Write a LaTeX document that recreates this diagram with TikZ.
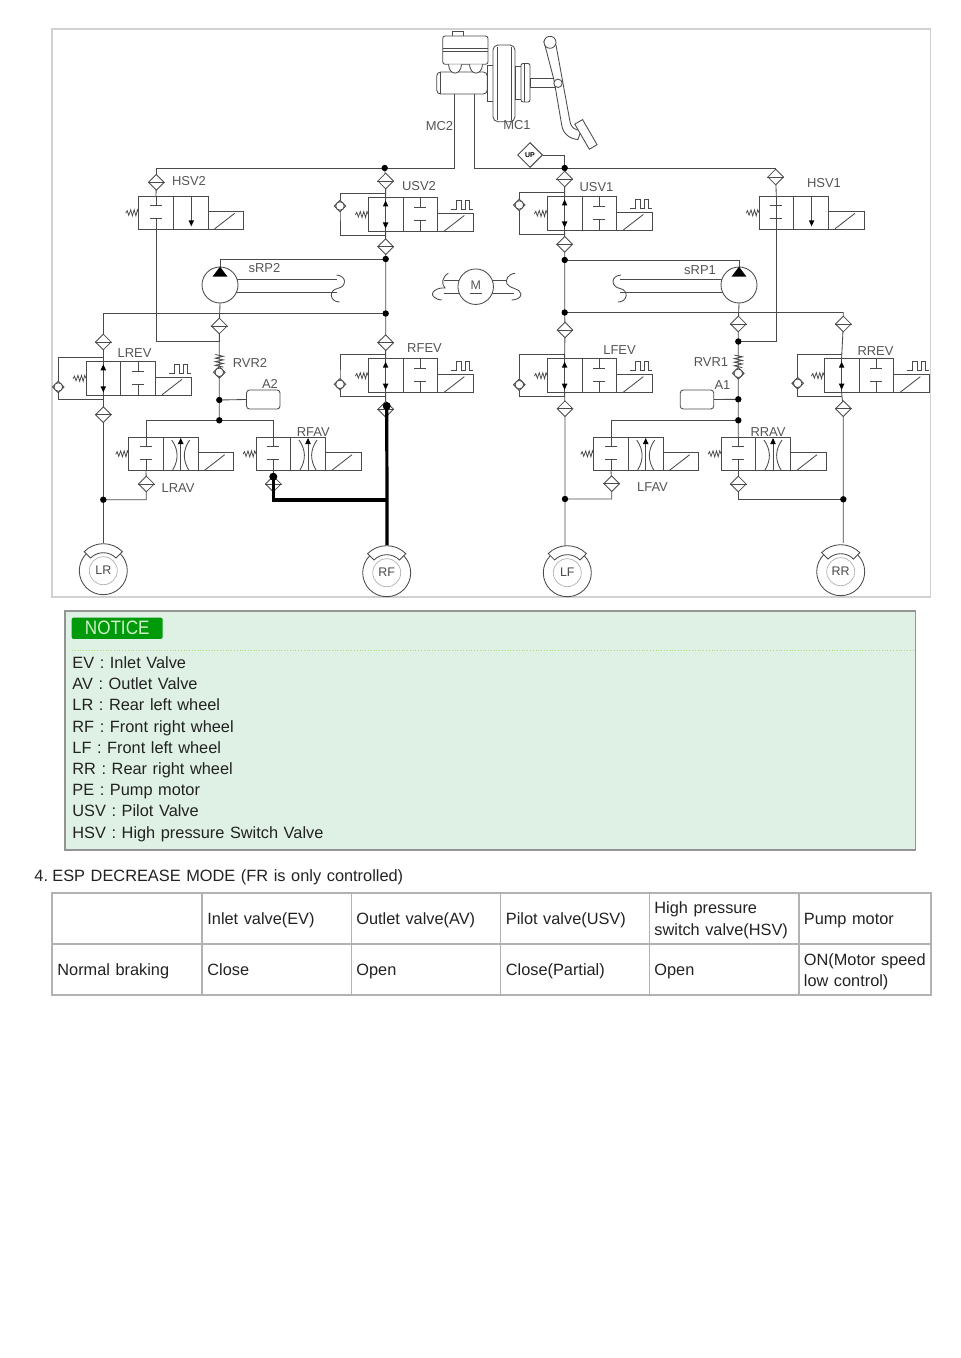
\documentclass[tikz,border=0pt]{standalone}
\usepackage{fontspec}
\setmainfont{Liberation Sans}
\newfontfamily\bodyfam[WordSpace=1.08]{Liberation Sans}
\newfontfamily\notefam[WordSpace=1.3]{Liberation Sans}
\newfontfamily\headfam[WordSpace=1.23]{Liberation Sans}
\newfontfamily\noticefam[FakeStretch=0.88]{Liberation Sans}
\usetikzlibrary{shapes.geometric,backgrounds,calc}
\definecolor{ln}{HTML}{4A4A4A}
\definecolor{lab}{HTML}{555555}
\definecolor{txt}{HTML}{222222}
\definecolor{noticebg}{HTML}{DFF1E4}
\definecolor{noticegr}{HTML}{009A0A}
\definecolor{noticetx}{HTML}{CFF2C8}
\newcommand\labfont{\fontsize{13}{13}\selectfont}
\newcommand\bodyfont{\bodyfam\fontsize{16.38}{21}\selectfont}
\newcommand\notefont{\notefam\fontsize{16.4}{21}\selectfont}
\newcommand\headfont{\headfam\fontsize{16.42}{21}\selectfont}
\tikzset{
  x=1bp,y=-1bp,
  every path/.style={line width=0.85bp},
  pipe/.style={draw=ln,line width=0.85bp},
  part/.style={draw=ln,line width=0.85bp},
  valvebox/.style={draw=ln,fill=white,rectangle,inner sep=0,outer sep=0,line width=0.85bp},
  filter/.style={draw=ln,fill=white,diamond,aspect=1,minimum width=16bp,minimum height=16bp,inner sep=0,line width=0.85bp},
  chk/.style={draw=ln,fill=white,diamond,aspect=1,minimum width=12bp,minimum height=12bp,inner sep=0,line width=0.85bp},
  junction/.style={circle,fill=black,minimum size=6.4bp,inner sep=0},
  bigdot/.style={circle,fill=black,minimum size=8bp,inner sep=0},
  lbl/.style={text=lab,font=\labfont,inner sep=0},
  accu/.style={draw=ln,fill=white,rectangle,rounded corners=3bp,minimum width=33.5bp,minimum height=19bp,inner sep=0,line width=0.85bp},
  pumpc/.style={draw=ln,fill=white,circle,minimum size=36bp,inner sep=0,line width=0.85bp},
  wheelc/.style={draw=ln,fill=white,circle,minimum size=48bp,inner sep=0,line width=0.85bp},
  body/.style={text=txt,font=\bodyfont,inner sep=0,anchor=base west},
  notetext/.style={body,font=\notefont},
  headtext/.style={body,font=\headfont},
  hot/.style={draw=black,line width=3.2bp},
  tblcell/.style={draw=black!30,line width=1.1bp},
}
\newcommand\fdiam[3]{\node[filter] (#1) at (#2,#3) {}; \draw[part] (#1.west) -- (#1.east);}
\newcommand\cvalve[3]{\node[chk] (#1) at (#2,#3) {}; \draw[part,fill=white] (#1.center) circle (4.3bp);}
\newcommand\valvebody[4]{%
  \node[valvebox,anchor=north west,minimum width=69.5bp,minimum height=#4bp] (#1) at (#2,#3) {};
  \begin{scope}[shift={(#2,#3)}]
    \coordinate (#1-p) at (17.3,0);
    \coordinate (#1-q) at (17.3,#4);
    \coordinate (#1-bt) at (17.3,-4);
    \coordinate (#1-bb) at (17.3,#4+4);
    \draw[part] (34.7,0) -- (34.7,#4);
    \draw[part] (69.5,#4-18) rectangle (105,#4);
    \draw[part] (76,#4-0.5) -- (96,#4-16);
    \draw[part,line width=0.75bp] (-13,#4/2+0.5) -- (-11.5,#4/2-2.2) -- (-10,#4/2+2.5) -- (-8,#4/2-3) -- (-6.3,#4/2+3) -- (-4.5,#4/2-3) -- (-2.8,#4/2+3) -- (-1.3,#4/2-3) -- (0,#4/2);
  \end{scope}}
\newcommand\blocked[2]{%
  \draw[part] (#1,0) -- (#1,#2/2-7) (#1-6,#2/2-7) -- (#1+6,#2/2-7);
  \draw[part] (#1-6,#2/2+6) -- (#1+6,#2/2+6) (#1,#2/2+6) -- (#1,#2);}
\newcommand\uptri[2]{\fill[black] (#1,#2) -- (#1+2.8,#2+6) -- (#1-2.8,#2+6) -- cycle;}
\newcommand\dntri[2]{\fill[black] (#1,#2) -- (#1+2.8,#2-6) -- (#1-2.8,#2-6) -- cycle;}
\newcommand\hsvalve[3]{\valvebody{#1}{#2}{#3}{33}
  \begin{scope}[shift={(#2,#3)}]
    \blocked{17.3}{33}
    \draw[part] (52.6,0) -- (52.6,26); \dntri{52.6}{30}
  \end{scope}}
\newcommand\pulsevalve[3]{\valvebody{#1}{#2}{#3}{34}
  \begin{scope}[shift={(#2,#3)}]
    \draw[part] (17.3,0) -- (17.3,34); \uptri{17.3}{3}\dntri{17.3}{31}
    \blocked{52}{34}
    \draw[part] (83,12) -- (88,12) -- (88,3) -- (93,3) -- (93,12) -- (97,12) -- (97,3) -- (101,3) -- (101,12) -- (105,12);
  \end{scope}}
\newcommand\avalve[3]{\valvebody{#1}{#2}{#3}{33.7}
  \begin{scope}[shift={(#2,#3)}]
    \blocked{17.3}{33.7}
    \draw[part] (52,2) -- (52,33.7); \uptri{52}{1}
    \draw[part] (43,3) .. controls (50,13) and (50,23) .. (44,33);
    \draw[part] (61,3) .. controls (54,13) and (54,23) .. (60,33);
  \end{scope}}
\newcommand\wheelsym[4]{%
  \node[wheelc] (#1) at (#2,#3) {};
  \draw[black!30,line width=0.7bp] (#1.center) circle (14bp);
  \node[lbl,text=ln,font=\fontsize{12.5}{12}\selectfont] at (#2,#3) {#4};
  \draw[part,fill=white] ($(#2,#3)+(135:27bp)$) arc[start angle=135,end angle=45,radius=27bp] -- ($(#2,#3)+(45:18bp)$) arc[start angle=45,end angle=135,radius=18bp] -- cycle;}
\newcommand\sends[3]{\begin{scope}[shift={(#1,#2)},xscale=#3]
  \draw[part] (0,-4) .. controls (11,-3) and (10,8) .. (1,9.5);
  \draw[part] (1,9.5) .. controls (-8,11) and (-7,23) .. (3,23);
\end{scope}}
\newcommand\coilspring[2]{\draw[part] (#1-4,#2) -- (#1+4,#2+1.8) -- (#1-4,#2+3.6) -- (#1+4,#2+5.4) -- (#1-4,#2+7.2) -- (#1+4,#2+9) -- (#1-4,#2+10.8) -- (#1+4,#2+12.6);}
\begin{document}
\begin{tikzpicture}
\useasboundingbox (0,0) rectangle (960,1358);

% ---- master cylinder, booster, pedal
\draw[part,fill=white] (452,36) -- (452,31) -- (463,31) -- (463,36);
\draw[part,fill=white,rounded corners=2.5bp] (442.7,36) rectangle (488,64.3);
\draw[part] (442.7,48.3) -- (488,48.3) (442.7,51) -- (488,51);
\draw[part,fill=white,rounded corners=4bp] (436.7,72) rectangle (487.3,94);
\draw[part] (440,72) -- (440,94);
\draw[part,fill=white] (448.5,64.3) .. controls (449,76) and (461,76) .. (461.5,64.3);
\draw[part,fill=white] (469.5,64.3) .. controls (470,76) and (482,76) .. (482.5,64.3);
\draw[part,fill=white] (487.3,65) rectangle (493,101);
\draw[part,fill=white,rounded corners=5bp] (493,45) rectangle (515,121.7);
\draw[part] (497,47) -- (497,120) (511.5,47) -- (511.5,120);
\draw[part,fill=white] (515,66) rectangle (521,99);
\draw[part,fill=white,rounded corners=2bp] (521,63.5) rectangle (530,102);
\draw[part] (524.5,64) -- (524.5,102);
\draw[part,fill=white] (530,78.3) rectangle (556,87.3);
\draw[part,fill=white] (544,41.7) -- (554,80) -- (561.7,125) .. controls (563,134) and (570,139) .. (578,139.5) -- (581,130.5) .. controls (574,130) and (571,127) .. (570,121.7) -- (556,45) -- cycle;
\draw[part,fill=white,rotate around={30:(585.7,134)}] (581.2,120) rectangle (590.2,149);
\draw[part,fill=white] (550,42.3) circle (6bp);
\draw[part,fill=white] (558,83.3) circle (4.2bp);
\node[lbl] (lMC2) at (439.5,126.5) {MC2};
\node[lbl] (lMC1) at (517,125.5) {MC1};

% ---- junctions
\node[junction] (jT2) at (384.7,168) {};
\node[junction] (jT1) at (564.7,168) {};
\node[junction] (jP2) at (385.7,259) {};
\node[junction] (jP1) at (564.7,260) {};
\node[junction] (jM2) at (385.7,313.5) {};
\node[junction] (jM1) at (564.7,312.5) {};
\node[junction] (jA2) at (219.3,400) {};
\node[junction] (jB2) at (219.3,420.3) {};
\node[junction] (jA1) at (738.3,399.3) {};
\node[junction] (jB1) at (738.3,420.3) {};
\node[junction] (jD1) at (738.3,341.5) {};
\node[junction] (jLR) at (103.3,499.7) {};
\node[junction] (jLF) at (565,499) {};
\node[junction] (jRR) at (843.3,499.3) {};
\coordinate (jRF) at (387,500);

% ---- valves
\hsvalve{vHSV2}{138.7}{196.3}
\hsvalve{vHSV1}{759}{196.3}
\pulsevalve{vUSV2}{368.3}{197.5}
\pulsevalve{vUSV1}{547.3}{196.5}
\pulsevalve{vLREV}{86}{361.3}
\pulsevalve{vRFEV}{368.3}{358.7}
\pulsevalve{vLFEV}{547.3}{358.7}
\pulsevalve{vRREV}{824.3}{358.7}
\avalve{vLRAV}{128.7}{437}
\avalve{vRFAV}{256}{437}
\avalve{vLFAV}{593.7}{437}
\avalve{vRRAV}{721}{437}
\draw[part] (vHSV1-p) -- (vHSV1-q);

% ---- filters and check valves
\fdiam{dHSV2}{156.3}{182.3}
\fdiam{dHSV1}{775.7}{177}
\fdiam{dUSV2a}{385.7}{181}
\fdiam{dUSV2b}{385.7}{246.7}
\fdiam{dUSV1a}{564.7}{179}
\fdiam{dUSV1b}{564.7}{244.3}
\fdiam{dP2}{219.3}{326}
\fdiam{dP1}{738.3}{324}
\fdiam{dLREVa}{103.3}{342}
\fdiam{dLREVb}{103.3}{414.7}
\fdiam{dRFEVa}{385.7}{342.7}
\fdiam{dRFEVb}{385.7}{409.3}
\fdiam{dLFEVa}{565}{330}
\fdiam{dLFEVb}{565}{408.7}
\fdiam{dRREVa}{843.3}{324}
\fdiam{dRREVb}{843.3}{408.7}
\fdiam{dLRAV}{146.3}{484}
\fdiam{dRFAV}{273.3}{484}
\fdiam{dLFAV}{611.7}{483.7}
\fdiam{dRRAV}{738.3}{484}
\cvalve{cUSV2}{340}{206}
\cvalve{cUSV1}{519.3}{205}
\cvalve{cLREV}{58.3}{387}
\cvalve{cRFEV}{340}{384.3}
\cvalve{cLFEV}{519.3}{384.7}
\cvalve{cRREV}{797.7}{383.3}
\cvalve{cRVR2}{219.3}{372.3}
\cvalve{cRVR1}{738.3}{373.3}
\coilspring{219.3}{354.5}
\coilspring{738.3}{355}

% ---- UP sensor
\node[draw=ln,fill=white,diamond,aspect=1,minimum width=25bp,minimum height=25bp,inner sep=0,line width=1bp] (up) at (530,155) {};
\node[lbl,text=black,font=\fontsize{7}{7}\selectfont\bfseries] at (up.center) {UP};

% ---- pumps, motor, accumulators, wheels
\node[pumpc] (pump2) at (220,285) {};
\node[pumpc] (pump1) at (739,285) {};
\fill[black] (220,266.7) -- (227.5,276.7) -- (212.5,276.7) -- cycle;
\fill[black] (739,266.7) -- (746.5,276.7) -- (731.5,276.7) -- cycle;
\node[pumpc,minimum size=35.5bp] (motor) at (475.7,286.7) {};
\node[lbl,font=\fontsize{12.5}{13}\selectfont] at (475.7,285.5) {M};
\draw[part] (469.5,293.5) -- (482,293.5);
\node[accu] (A2) at (263.3,399.5) {};
\node[accu] (A1) at (697,399.5) {};
\wheelsym{wLR}{103.3}{570.7}{LR}
\wheelsym{wRF}{386.7}{572.7}{RF}
\wheelsym{wLF}{567.3}{572.7}{LF}
\wheelsym{wRR}{840.7}{571.7}{RR}

% ---- pipes, under everything else
\begin{scope}[on background layer]
\fill[white] (0,0) rectangle (960,1358);
\draw[black!18,line width=1.1bp] (52,29) rectangle (930.5,597);
\draw[pipe] (454.3,94) |- (dHSV2.center |- jT2) -- (dHSV2.center);
\draw[pipe] (474.3,94) |- (dHSV1.center |- jT1) -- (dHSV1.center);
\draw[pipe] (up.east) -| (jT1.center);
\draw[pipe] (jT2.center) -- (dUSV2a.center);
\draw[pipe] (dUSV2a.center) -- (vUSV2-p);
\draw[pipe] (vUSV2-q) -- (dUSV2b.center) -- (jP2.center) -- (jM2.center) -- (dRFEVa.center) -- (vRFEV-p);
\draw[pipe] (vRFEV-q) -- (dRFEVb.center);
\draw[pipe] (jT1.center) -- (dUSV1a.center) -- (vUSV1-p);
\draw[pipe] (vUSV1-q) -- (dUSV1b.center) -- (jP1.center) -- (jM1.center) -- (dLFEVa.center) -- (vLFEV-p);
\draw[pipe] (vLFEV-q) -- (dLFEVb.center) -- (jLF.center) -- (wLF.north -| jLF);
\draw[pipe] (dHSV2.center) -- (vHSV2-p);
\draw[pipe] (vHSV2-q) -- (vHSV2-q |- jD1) -- (dP2 |- jD1) -- (dP2.center);
\draw[pipe] (dHSV1.center) -- (vHSV1-p);
\draw[pipe] (vHSV1-q) -- (vHSV1-q |- jD1) -- (jD1.center);
\draw[pipe] (dLREVa.north |- jM2) -- (jM2.center);
\draw[pipe] (jM1.center) -- (dRREVa.north |- jM1) -- (dRREVa.center) -- (vRREV-p);
\draw[pipe] (vRREV-q) -- (dRREVb.center) -- (jRR.center) -- (843.3,543);
\draw[pipe] (dLREVa.north |- jM2) -- (dLREVa.center) -- (vLREV-p);
\draw[pipe] (vLREV-q) -- (dLREVb.center) -- (jLR.center) -- (103.3,543);
\draw[pipe] (pump2.south) -- (dP2.center) -- (cRVR2.center) -- (jA2.center) -- (jB2.center);
\draw[pipe] (pump1.south) -- (dP1.center) -- (jD1.center) -- (cRVR1.center) -- (jA1.center) -- (jB1.center) -- (vRRAV-p);
\draw[pipe] (jP2.center) -| (pump2.north);
\draw[pipe] (jP1.center) -| (pump1.north);
\draw[pipe] (jA2.center) -- (A2.west);
\draw[pipe] (jA1.center) -- (A1.east);
\draw[pipe] (vLRAV-p) |- (jB2.center) -| (vRFAV-p);
\draw[pipe] (vLFAV-p) |- (jB1.center);
\draw[pipe] (vLRAV-q) -- (dLRAV.center) |- (jLR.center);
\draw[pipe] (vRFAV-q) -- (dRFAV.center);
\draw[pipe] (vLFAV-q) -- (dLFAV.center) |- (jLF.center);
\draw[pipe] (vRRAV-q) -- (dRRAV.center) |- (jRR.center);
\draw[pipe] (vUSV2-bt) -| (cUSV2.center) |- (vUSV2-bb);
\draw[pipe] (vUSV1-bt) -| (cUSV1.center) |- (vUSV1-bb);
\draw[pipe] (vLREV-bt) -| (cLREV.center) |- (vLREV-bb);
\draw[pipe] (vRFEV-bt) -| (cRFEV.center) |- (vRFEV-bb);
\draw[pipe] (vLFEV-bt) -| (cLFEV.center) |- (vLFEV-bb);
\draw[pipe] (vRREV-bt) -| (cRREV.center) |- (vRREV-bb);
% pump and motor stubs
\draw[pipe] (pump2.center) ++(0,-6) -- ++(116.5,0) (pump2.center) ++(0,7.3) -- ++(116.5,0);
\draw[pipe] (pump1.center) ++(0,-6) -- ++(-119,0) (pump1.center) ++(0,7.3) -- ++(-119,0);
\draw[pipe] (motor.center) ++(-32,-6.7) -- ++(32,0) (motor.center) ++(-32,6.3) -- ++(32,0);
\draw[pipe] (motor.center) ++(0,-6.7) -- ++(31,0) (motor.center) ++(0,6.3) -- ++(38,0);
\end{scope}
\sends{336.5}{279}{1}
\sends{621}{279}{-1}
\draw[part] (448.3,273.3) .. controls (442,277) and (441,284) .. (445,288) .. controls (437,287) and (429,293) .. (434,297) .. controls (436,299) and (439,300) .. (441.7,300);
\draw[part] (515,273.3) .. controls (508,274) and (505,280) .. (507,284) .. controls (510,289) and (520,288) .. (521,294) .. controls (521,298) and (516,300) .. (511.7,300);

% ---- active (thick) line
\node[bigdot] (hotA) at (386.7,406) {};
\node[bigdot] (hotB) at (273.3,476.7) {};
\draw[hot] (hotA.center) -- (jRF) -- (387,545);
\draw[hot,line join=miter] (hotB.center) |- (jRF);

% ---- labels
\node[lbl] at (189,181) {HSV2};
\node[lbl] at (419,186) {USV2};
\node[lbl] at (596.5,186.7) {USV1};
\node[lbl] at (824,183) {HSV1};
\node[lbl] at (264.5,268) {sRP2};
\node[lbl] at (700,270) {sRP1};
\node[lbl] at (134.5,353.5) {LREV};
\node[lbl] at (424.5,348.3) {RFEV};
\node[lbl] at (619.5,350) {LFEV};
\node[lbl] at (875.5,351.5) {RREV};
\node[lbl] at (250,362.7) {RVR2};
\node[lbl] at (711,361.7) {RVR1};
\node[lbl] at (270,384) {A2};
\node[lbl] at (722.5,385.3) {A1};
\node[lbl] at (313.3,431.7) {RFAV};
\node[lbl] at (768,431.7) {RRAV};
\node[lbl] at (178,487.7) {LRAV};
\node[lbl] at (652.5,486.7) {LFAV};

% ---- notice
\draw[black!42,fill=noticebg,line width=1.2bp] (65,611) rectangle (915.5,850);
\node[fill=noticegr,rounded corners=2bp,minimum width=91bp,minimum height=21.3bp,inner sep=0] (badge) at (117.2,628.3) {};
\node[text=noticetx,font=\noticefam\fontsize{19.5}{19}\selectfont,inner sep=0] at (badge.center) {NOTICE};
\draw[green!50!yellow!75!black!55,line width=0.8bp,dotted] (72,650.7) -- (915,650.7);
\node[notetext] (n1) at (72,668.3) {EV : Inlet Valve};
\node[notetext] (n2) at (72,689.5) {AV : Outlet Valve};
\node[notetext] (n3) at (72,710.7) {LR : Rear left wheel};
\node[notetext] (n4) at (72,732) {RF : Front right wheel};
\node[notetext] (n5) at (72,753) {LF : Front left wheel};
\node[notetext] (n6) at (72,774.3) {RR : Rear right wheel};
\node[notetext] (n7) at (72,795.4) {PE : Pump motor};
\node[notetext] (n8) at (72,816.7) {USV : Pilot Valve};
\node[notetext] (n9) at (72,838) {HSV : High pressure Switch Valve};

% ---- heading and table
\node[headtext] (headn) at (34,881.3) {4.};
\node[headtext] (head) at (52,881.3) {ESP DECREASE MODE (FR is only controlled)};
\draw[tblcell] (52,893) rectangle (931,995);
\draw[tblcell] (52,944) -- (931,944);
\foreach \xx in {202,351.5,500.5,649.5,799} {\draw[tblcell] (\xx,893) -- (\xx,995);}
\node[body] (t1) at (207,924) {Inlet valve(EV)};
\node[body] (t2) at (356,924) {Outlet valve(AV)};
\node[body] (t3) at (505.5,924) {Pilot valve(USV)};
\node[body] (t4a) at (654,913.5) {High pressure};
\node[body] (t4b) at (654,935) {switch valve(HSV)};
\node[body] (t5) at (803.5,924) {Pump motor};
\node[body] (r0) at (57,975) {Normal braking};
\node[body] (r1) at (207,975) {Close};
\node[body] (r2) at (356,975) {Open};
\node[body] (r3) at (505.5,975) {Close(Partial)};
\node[body] (r4) at (654,975) {Open};
\node[body] (r5a) at (803.5,965) {ON(Motor speed};
\node[body] (r5b) at (803.5,986) {low control)};
\end{tikzpicture}
\end{document}
